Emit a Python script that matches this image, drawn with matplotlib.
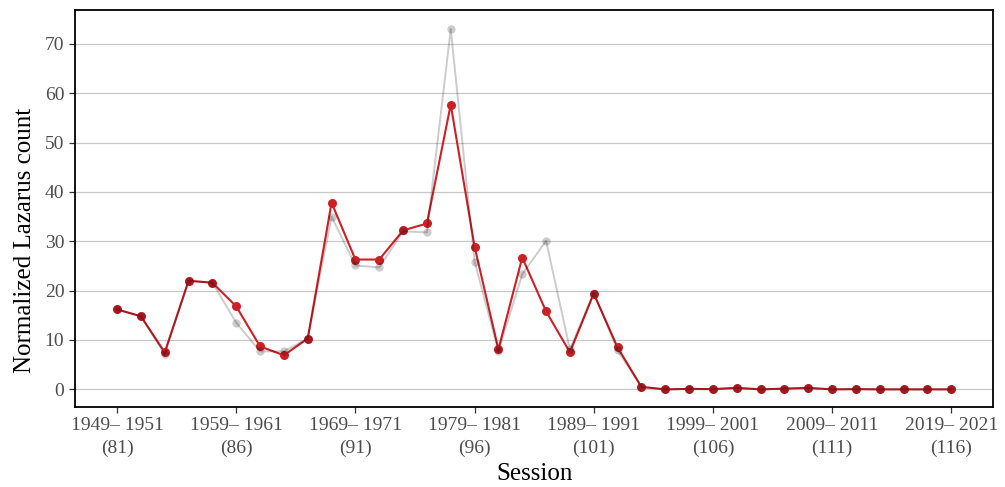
import matplotlib
matplotlib.use("Agg")
import matplotlib.pyplot as plt
import numpy as np

# Congressional sessions and their year spans
sessions = list(range(81, 117))
tick_sessions = [81, 86, 91, 96, 101, 106, 111, 116]
tick_years = ["1949\u2013 1951", "1959\u2013 1961", "1969\u2013 1971", "1979\u2013 1981",
              "1989\u2013 1991", "1999\u2013 2001", "2009\u2013 2011", "2019\u2013 2021"]

# Raw normalized Lazarus counts (grey) and adjusted counts (red)
raw_counts = [16.2, 14.8, 7.1, 22.0, 21.6, 13.5, 7.7, 7.7, 10.3, 35.0,
              25.1, 24.7, 32.0, 31.8, 73.0, 25.9, 7.7, 23.3, 30.1, 8.1,
              19.6, 7.9, 0.5, 0.0, 0.1, 0.05, 0.3, 0.0, 0.15, 0.25,
              0.0, 0.05, 0.0, 0.0, 0.0, 0.0]
adj_counts = [16.2, 14.8, 7.5, 22.0, 21.6, 16.8, 8.7, 6.9, 10.3, 37.8,
              26.3, 26.3, 32.2, 33.6, 57.7, 28.9, 8.1, 26.7, 15.8, 7.5,
              19.4, 8.5, 0.5, 0.0, 0.1, 0.05, 0.3, 0.0, 0.15, 0.3,
              0.0, 0.05, 0.0, 0.0, 0.0, 0.0]

plt.rcParams['font.family'] = ['Liberation Serif', 'DejaVu Serif']

fig, ax = plt.subplots(figsize=(10.05, 4.87), dpi=100)
fig.subplots_adjust(left=0.075, right=0.988, top=0.979, bottom=0.165)

# adjusted series underneath, translucent black raw series on top
ax.plot(sessions, adj_counts, color="#cc2027", lw=1.5,
        marker="o", ms=6.5, mew=0, zorder=3)
ax.plot(sessions, raw_counts, color="black", alpha=0.2, lw=1.4,
        marker="o", ms=6, mew=0, zorder=4)

ax.set_xlim(79.25, 117.75)
ax.set_ylim(-3.5, 76.8)
ax.set_yticks([0, 10, 20, 30, 40, 50, 60, 70])
ax.set_xticks(tick_sessions)
ax.set_xticklabels([f"{y}\n({s})" for y, s in zip(tick_years, tick_sessions)],
                   linespacing=1.45)

ax.grid(axis="y", color="#c8c8c8", lw=0.9)
ax.grid(axis="x", visible=False)
ax.set_axisbelow(True)

for sp in ax.spines.values():
    sp.set_color("black")
    sp.set_linewidth(1.3)

ax.tick_params(axis="both", labelsize=14, colors="#4d4d4d", length=4.5, width=0.9)
ax.tick_params(axis="both", color="#333333")
ax.tick_params(axis="x", pad=3)
ax.set_xlabel("Session", fontsize=18, color="black", labelpad=4)
ax.set_ylabel("Normalized Lazarus count", fontsize=18, color="black")
ax.yaxis.set_label_coords(-0.043, 0.42)

fig.savefig("out.png", dpi=100)
